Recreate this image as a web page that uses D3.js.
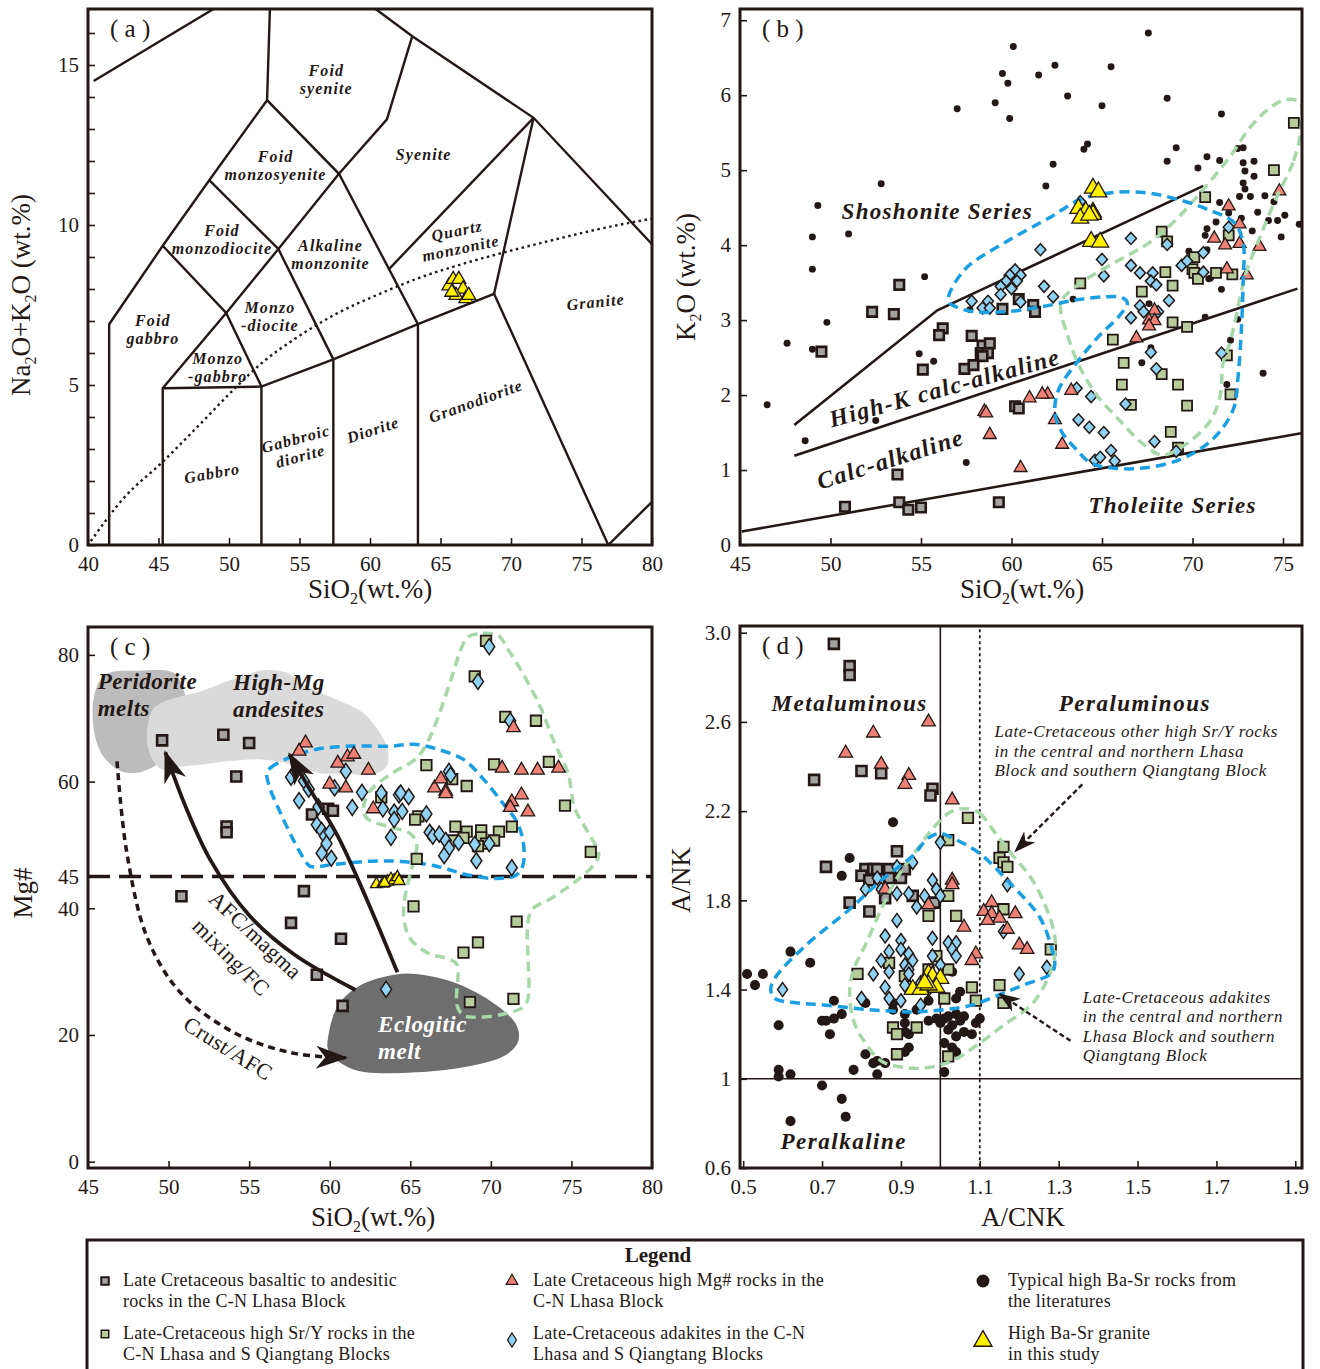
<!DOCTYPE html>
<html>
<head>
<meta charset="utf-8">
<script src="https://cdn.jsdelivr.net/npm/d3@7"></script>
<style>
body { margin: 0; background: #fff; }
svg text { font-family: "Liberation Serif", "Times New Roman", serif; fill: #231815; }
.lab { font-weight: bold; font-style: italic; }
</style>
</head>
<body>
<svg id="fig" width="1320" height="1369"></svg>
<script>
// ---------- (a) TAS plutonic ----------
var aFieldLines = [
  [[40.4,14.5],[48.9,16.75]],
  [[52.9,16.75],[52.7,13.9],[57.8,11.6],[63.4,6.9],[63.4,0]],
  [[52.7,13.9],[48.6,11.4],[45.3,9.35],[41.5,6.9],[41.5,0]],
  [[48.6,11.4],[53.5,9.25],[57.4,5.8],[57.4,0]],
  [[57.8,11.6],[53.5,9.25],[49.8,7.25],[45.3,4.9],[45.3,0]],
  [[45.3,9.35],[49.8,7.25],[52.3,4.95],[52.3,0]],
  [[45.3,4.9],[52.3,4.95],[57.4,5.8],[63.4,6.9],[68.8,7.85],[76.9,0],[80,1.35]],
  [[68.8,7.85],[71.6,13.35]],
  [[61.3,8.6],[71.6,13.35]],
  [[60.4,16.75],[63.0,15.9],[71.6,13.35],[80,9.4]],
  [[63.0,15.9],[61.2,13.3],[57.8,11.6]]
];
var aAlkLine = [[40.2,0.12],[42.5,1.45],[45.3,2.6],[48,3.8],[50.2,4.8],[52.5,5.75],[54.7,6.45],[57.5,7.2],[60.7,7.85],[63.5,8.35],[66.7,8.8],[70,9.2],[72.7,9.5],[76,9.85],[80,10.2]];
var aYellow = [[65.6,8.1],[65.9,8.3],[66.3,8.3],[66.6,8.0],[66.1,7.8],[66.8,7.7],[67.0,7.8],[65.8,7.9]];
var aNames = [
  {t:["Foid","syenite"], x:56.9, y:14.55, r:0},
  {t:["Foid","monzosyenite"], x:53.3, y:11.85, r:0},
  {t:["Syenite"], x:63.8, y:12.2, r:0},
  {t:["Foid","monzodiocite"], x:49.5, y:9.55, r:0},
  {t:["Alkaline","monzonite"], x:57.2, y:9.08, r:0},
  {t:["Quartz","monzonite"], x:66.3, y:9.55, r:-12},
  {t:["Foid","gabbro"], x:44.6, y:6.75, r:0},
  {t:["Monzo","-diocite"], x:52.9, y:7.15, r:0},
  {t:["Monzo","-gabbro"], x:49.2, y:5.55, r:0},
  {t:["Granite"], x:76.0, y:7.6, r:-6},
  {t:["Gabbro"], x:48.8, y:2.25, r:-10},
  {t:["Gabbroic","diorite"], x:54.9, y:3.05, r:-15},
  {t:["Diorite"], x:60.2, y:3.6, r:-18},
  {t:["Granodiorite"], x:67.5, y:4.5, r:-20}
];

// ---------- (b) K2O vs SiO2 ----------
var bShoLine = [[48,1.6],[55.9,3.13],[70.6,4.79]];
var bHkLine = [[48,1.19],[75.8,3.42]];
var bThLine = [[45.1,0.18],[76,1.49]];
var bBlueField = [[56.5,3.26],[57.4,3.67],[59.6,4.03],[62.2,4.38],[63.8,4.61],[65.5,4.70],[67.4,4.70],[69.2,4.61],[70.9,4.47],[72.3,4.30],[72.8,4.03],[72.8,3.54],[72.7,2.87],[72.5,2.20],[72.3,1.84],[71.6,1.54],[70.6,1.31],[69.2,1.13],[67.4,1.03],[65.9,1.02],[64.4,1.09],[63.6,1.27],[62.8,1.50],[62.4,1.76],[62.6,2.07],[63.6,2.43],[64.8,2.78],[65.9,3.04],[66.4,3.23],[66.1,3.30],[65.1,3.31],[63.6,3.27],[61.7,3.18],[59.6,3.11],[58.0,3.11],[56.9,3.18]];
var bGreenField = [[76.0,5.54],[75.55,5.10],[74.67,4.65],[73.73,4.11],[72.96,3.63],[72.40,3.04],[72.07,2.70],[71.69,2.43],[71.52,1.98],[70.91,1.63],[69.42,1.31],[68.31,1.20],[67.21,1.36],[66.10,1.63],[64.78,1.98],[63.84,2.34],[63.12,2.78],[62.73,3.23],[63.51,3.44],[65.72,3.77],[67.60,4.03],[69.09,4.34],[70.58,4.74],[72.07,5.18],[73.18,5.57],[74.17,5.81],[75.11,5.94],[75.94,5.90]];
var bDots = [[67.56,6.83],[60.1,6.65],[59.5,6.29],[59.8,6.16],[62.4,6.40],[65.5,6.38],[61.5,6.27],[63.1,5.99],[59.1,5.90],[57.0,5.82],[59.9,5.69],[65.0,5.86],[68.6,5.96],[71.6,5.75],[64.2,5.35],[64.0,5.28],[69.1,5.30],[62.3,5.08],[61.9,4.79],[68.6,5.12],[70.8,5.18],[70.3,5.03],[71.5,5.13],[52.8,4.82],[49.3,4.53],[49.0,4.11],[51.0,4.15],[49.0,3.68],[55.2,3.58],[49.8,2.97],[47.6,2.69],[49.0,2.61],[46.5,1.87],[48.6,1.39],[54.9,2.55],[55.7,2.45],[52.5,1.66],[57.5,1.10],[63.4,3.28],[57.7,3.14],[67.6,3.22],[67.7,2.63],[67.2,2.43],[72.5,3.01],[72.1,2.73],[73.9,2.29],[71.9,2.14],[70.7,3.04],[71.6,3.41],[71.0,3.56],[69.8,3.92],[72.5,5.29],[72.8,5.30],[72.8,5.10],[73.4,5.12],[72.9,4.99],[73.4,4.92],[72.8,4.83],[72.9,4.75],[72.6,4.65],[73.2,4.65],[74.0,4.66],[74.5,4.58],[72.7,4.36],[73.6,4.44],[74.2,4.33],[74.7,4.33],[75.1,4.40],[75.9,4.28],[74.9,4.11],[73.3,4.19],[71.5,4.57],[70.8,4.22],[70.7,4.13],[70.8,3.94],[71.3,4.31],[72.0,4.43],[70.4,3.63],[70.9,3.55]];
var bGrey = [[53.8,3.47],[52.3,3.11],[53.5,3.08],[49.5,2.58],[56.2,2.89],[56.0,2.80],[57.8,2.79],[58.4,2.66],[58.8,2.69],[58.3,2.56],[58.7,2.56],[58.4,2.52],[57.4,2.35],[57.9,2.40],[55.1,2.34],[59.5,3.15],[60.4,3.28],[61.2,3.20],[61.3,3.11],[60.2,1.85],[60.4,1.82],[53.7,0.94],[53.8,0.57],[54.3,0.47],[55.0,0.50],[50.8,0.51],[59.3,0.57]];
var bRed = [[74.8,4.72],[72.0,4.52],[72.6,4.28],[71.2,4.09],[71.8,4.00],[72.6,4.02],[73.7,3.98],[71.9,3.68],[73.0,3.60],[67.9,3.13],[67.6,3.00],[67.9,2.99],[67.6,2.92],[66.9,2.76],[63.3,2.06],[62.0,2.01],[61.7,2.01],[61.0,1.96],[58.5,1.78],[58.6,1.76],[58.8,1.47],[62.4,1.67],[62.8,1.34],[60.5,1.03]];
var bGreen = [[75.6,5.63],[74.5,5.00],[70.7,4.64],[68.3,4.18],[68.6,4.05],[72.0,4.13],[70.1,3.84],[70.0,3.68],[70.1,3.63],[70.3,3.55],[68.5,3.64],[68.9,3.46],[71.3,3.63],[72.2,3.61],[63.8,3.49],[67.2,3.38],[68.9,2.97],[69.7,2.91],[65.6,2.74],[66.2,2.43],[66.1,2.14],[66.6,1.87],[68.3,2.28],[69.2,2.14],[69.7,1.86],[71.9,2.53],[72.1,2.01],[68.8,1.51],[69.2,1.30]];
var bBlue = [[63.8,4.58],[61.6,3.94],[60.2,3.67],[59.9,3.60],[60.5,3.60],[59.7,3.52],[60.3,3.52],[59.4,3.45],[60.0,3.42],[59.4,3.34],[60.5,3.24],[61.8,3.45],[62.3,3.31],[57.8,3.25],[58.7,3.25],[58.4,3.16],[58.8,3.16],[65.0,3.81],[65.1,3.59],[66.6,4.09],[66.6,3.73],[67.1,3.63],[67.8,3.63],[67.7,3.52],[68.0,3.47],[68.7,3.26],[68.6,4.01],[69.4,3.73],[69.7,3.79],[70.6,3.90],[70.6,3.64],[72.0,4.24],[67.1,3.19],[67.3,3.11],[68.1,3.11],[66.6,3.03],[67.7,2.57],[68.0,2.35],[71.6,2.56],[63.6,2.09],[64.4,1.98],[66.3,1.88],[63.7,1.67],[64.3,1.57],[65.1,1.50],[67.9,1.38],[64.6,1.13],[64.9,1.17],[65.5,1.26],[65.7,1.12],[69.1,1.25]];
var bYellow = [[64.5,4.76],[64.8,4.71],[63.7,4.49],[64.1,4.45],[64.5,4.44],[64.5,4.41],[63.8,4.36],[64.3,4.40],[64.4,4.05],[64.9,4.04]];

// ---------- (c) Mg# vs SiO2 ----------
var cPeridotite = [[45.4,73.8],[46.1,76.9],[48.2,77.5],[50.3,77.2],[50.9,74.7],[51.1,72.2],[50.5,67.6],[49.8,63.8],[48.4,61.6],[47.1,61.6],[46.0,63.8],[45.4,67.6]];
var cHighMg = [[49.0,71.3],[50.0,72.9],[51.8,74.1],[54.2,76.3],[56.0,77.6],[57.3,77.2],[58.4,75.3],[60.2,73.2],[62.0,71.0],[62.9,68.5],[63.6,65.1],[63.5,62.3],[62.5,61.0],[61.0,61.3],[59.4,61.3],[57.8,62.6],[55.8,63.5],[53.7,63.2],[52.1,62.7],[50.5,62.3],[49.5,62.0],[48.7,65.7]];
var cEclogite = [[59.9,19.6],[60.5,24.6],[61.8,27.7],[64.2,29.6],[66.2,29.3],[68.3,27.7],[70.4,24.6],[71.6,21.5],[71.7,19.0],[70.9,16.8],[68.3,14.9],[64.4,14.0],[61.8,14.3],[60.5,15.9],[59.9,17.7]];
var cBlueField = [[56.1,61.2],[56.3,62.1],[57.4,63.7],[59.2,65.1],[61.3,65.6],[63.8,65.6],[65.2,65.9],[66.7,65.1],[68.3,63.5],[69.5,60.5],[70.8,56.4],[71.6,53.7],[72.0,50.6],[72.0,46.9],[71.6,45.3],[70.4,44.7],[68.5,45.3],[66.7,46.6],[64.4,47.4],[62.3,47.4],[60.2,46.9],[58.8,46.6],[58.5,47.4],[57.7,51.0],[56.9,55.3],[56.3,58.9]];
var cGreenField = [[68.7,83.0],[69.5,83.4],[70.5,83.0],[71.0,81.1],[72.0,77.0],[73.1,71.6],[73.9,66.4],[74.8,61.2],[75.2,55.8],[76.0,52.1],[76.7,48.5],[76.4,46.9],[75.4,44.5],[73.7,41.5],[72.6,39.9],[72.3,37.9],[72.3,25.7],[72.0,24.4],[70.8,23.3],[69.2,22.8],[68.3,23.1],[67.9,24.7],[67.9,31.1],[67.4,32.0],[66.2,32.8],[65.0,35.2],[64.6,38.4],[64.7,42.2],[65.2,47.4],[65.4,50.1],[65.0,51.8],[63.6,52.9],[62.3,54.2],[62.1,55.8],[62.5,58.5],[63.8,61.2],[65.4,63.7],[66.1,66.4],[66.7,70.0],[67.5,75.9],[68.3,81.8]];
var cArrowAFC = [[61.6,27.1],[57.8,32.7],[55.0,38.9],[52.6,47.6],[51.0,56.4],[49.8,64.6]];
var cArrowMix = [[64.2,29.9],[62.3,41.4],[60.5,51.4],[58.6,59.5],[57.5,64.3]];
var cArrowCrust = [[46.8,63.2],[47.4,48.9],[48.7,35.2],[50.8,26.5],[54.2,20.2],[57.8,17.1],[61.0,16.4]];
var cGrey = [[49.6,66.5],[53.4,67.4],[55.0,66.1],[54.2,60.8],[53.6,52.9],[53.6,52.0],[50.8,41.9],[58.4,42.7],[57.6,37.7],[60.7,35.2],[59.2,29.5],[60.8,24.6],[58.9,54.8],[59.9,55.7],[60.2,55.4]];
var cRed = [[58.5,66.1],[58.1,64.8],[60.5,62.9],[61.1,63.9],[61.5,64.3],[62.4,61.8],[60.0,59.6],[61.0,59.0],[62.7,55.7],[66.5,59.0],[66.9,60.4],[67.2,58.5],[67.2,58.1],[70.7,62.1],[71.9,61.8],[72.9,61.8],[74.2,62.1],[71.4,68.5],[71.9,57.9],[71.3,56.8],[71.2,55.9],[72.3,55.2]];
var cGreen = [[69.7,82.2],[69.0,76.6],[70.9,70.2],[72.8,69.6],[73.6,63.1],[70.2,62.7],[66.0,62.6],[67.6,60.4],[68.5,59.3],[63.2,57.5],[65.5,54.5],[65.3,54.0],[74.6,56.2],[71.3,52.9],[67.8,52.9],[68.5,52.1],[69.4,52.3],[70.5,52.1],[67.6,50.7],[68.3,51.1],[69.4,51.2],[69.7,50.2],[69.2,49.8],[70.2,50.7],[65.4,47.8],[76.2,48.9],[65.2,40.3],[71.6,37.9],[68.3,33.0],[69.2,34.6],[68.7,25.2],[71.4,25.7]];
var cBlue = [[69.9,81.3],[69.2,75.8],[71.2,69.6],[57.6,60.7],[57.9,61.5],[58.4,60.1],[58.7,58.8],[58.1,57.0],[59.3,56.0],[60.3,59.0],[61.0,61.6],[62.0,58.3],[61.4,55.9],[63.2,58.2],[63.3,55.7],[64.3,57.9],[64.9,57.6],[64.4,58.2],[64.0,55.2],[64.0,54.0],[64.5,55.3],[63.8,51.2],[59.2,53.2],[59.5,52.3],[59.7,51.4],[60.0,52.0],[59.8,50.2],[59.5,48.7],[60.1,47.9],[66.0,54.9],[66.2,52.0],[66.4,51.4],[66.8,51.7],[67.2,50.7],[67.4,49.5],[67.1,48.3],[68.0,50.4],[67.4,61.6],[67.5,61.0],[69.0,50.1],[69.9,50.2],[69.1,47.5],[71.3,46.4],[63.5,27.2]];
var cYellow = [[62.9,43.8],[63.3,43.9],[63.6,44.2],[63.8,44.6],[64.0,44.4],[64.2,44.9],[63.4,44.0],[64.3,44.3]];

// ---------- (d) A/NK vs A/CNK ----------
var dBlueField = [[0.57,1.40],[0.58,1.45],[0.66,1.60],[0.77,1.76],[0.85,1.89],[0.93,2.00],[0.97,2.08],[1.00,2.10],[1.03,2.08],[1.10,2.01],[1.18,1.87],[1.25,1.73],[1.28,1.60],[1.29,1.51],[1.28,1.47],[1.21,1.42],[1.14,1.37],[1.08,1.33],[1.01,1.31],[0.93,1.30],[0.82,1.31],[0.71,1.33],[0.64,1.34],[0.58,1.36]];
var dGreenField = [[1.07,2.21],[1.10,2.19],[1.14,2.10],[1.18,2.01],[1.23,1.90],[1.27,1.76],[1.29,1.64],[1.29,1.55],[1.27,1.44],[1.23,1.33],[1.16,1.24],[1.10,1.16],[1.03,1.08],[0.97,1.05],[0.91,1.05],[0.85,1.08],[0.81,1.16],[0.78,1.26],[0.77,1.39],[0.78,1.49],[0.81,1.60],[0.85,1.76],[0.89,1.90],[0.95,2.05],[0.99,2.14],[1.03,2.20]];
var dArrowSrY = [[1.36,2.32],[1.19,2.02]];
var dArrowAdak = [[1.33,1.17],[1.15,1.38]];
var dGrey = [[0.73,2.95],[0.77,2.85],[0.77,2.81],[0.68,2.34],[0.80,2.38],[0.85,2.37],[0.98,2.30],[0.975,2.27],[0.89,2.02],[0.71,1.95],[0.81,1.94],[0.83,1.94],[0.84,1.94],[0.80,1.91],[0.82,1.89],[0.87,1.94],[0.90,1.93],[0.87,1.90],[0.90,1.90],[0.91,1.94],[0.77,1.79],[0.82,1.75],[0.86,1.81],[0.985,1.79],[0.93,1.82]];
var dRed = [[0.97,2.60],[0.83,2.55],[0.76,2.46],[0.85,2.41],[0.92,2.36],[0.91,2.32],[1.03,2.25],[1.03,1.89],[1.03,1.87],[0.86,1.85],[0.97,1.78],[1.06,1.68],[1.09,1.56],[1.08,1.53],[1.13,1.79],[1.11,1.75],[1.13,1.74],[1.15,1.72],[1.12,1.71],[1.19,1.74],[1.17,1.67],[1.20,1.60],[1.22,1.58]];
var dGreen = [[1.07,2.17],[1.02,2.07],[1.16,2.04],[1.15,1.99],[1.16,1.97],[1.17,1.95],[1.02,1.82],[1.04,1.73],[0.97,1.73],[1.16,1.76],[1.28,1.58],[0.79,1.47],[0.87,1.52],[1.15,1.42],[1.08,1.41],[1.09,1.35],[1.01,1.36],[0.88,1.23],[0.89,1.20],[0.94,1.23],[0.89,1.11],[1.02,1.10],[1.16,1.34],[0.91,1.46],[0.97,1.49],[0.99,1.55],[1.02,1.49]];
var dBlue = [[1.00,2.06],[0.89,1.95],[0.93,1.97],[0.81,1.85],[0.84,1.90],[0.85,1.85],[0.89,1.83],[0.92,1.83],[0.94,1.77],[0.96,1.82],[0.98,1.89],[0.99,1.85],[1.00,1.82],[1.17,1.87],[1.16,1.66],[0.89,1.71],[0.86,1.64],[0.90,1.62],[0.98,1.63],[1.02,1.61],[1.04,1.61],[1.03,1.58],[1.04,1.55],[0.85,1.53],[0.87,1.57],[0.90,1.58],[0.92,1.56],[0.93,1.53],[0.91,1.51],[0.92,1.49],[0.87,1.48],[0.83,1.47],[0.92,1.47],[0.98,1.55],[1.00,1.51],[0.86,1.41],[0.87,1.36],[0.90,1.35],[0.80,1.36],[0.95,1.33],[0.60,1.40],[1.20,1.47],[1.27,1.50],[0.97,1.40],[0.95,1.43],[0.91,1.42]];
var dDots = [[0.88,2.15],[0.77,1.99],[0.75,1.91],[0.67,1.52],[0.62,1.57],[0.51,1.47],[0.55,1.47],[0.53,1.42],[0.73,1.35],[0.59,1.24],[0.70,1.26],[0.71,1.26],[0.73,1.27],[0.72,1.20],[0.75,1.29],[0.81,1.34],[0.81,1.11],[0.83,1.07],[0.84,1.08],[0.86,1.07],[0.84,1.02],[0.78,1.04],[0.88,1.31],[0.91,1.29],[0.91,1.25],[0.91,1.21],[0.92,1.14],[0.91,1.12],[0.97,1.26],[0.99,1.27],[1.00,1.25],[1.01,1.27],[1.02,1.28],[1.03,1.24],[1.05,1.26],[1.02,1.22],[1.04,1.19],[1.01,1.16],[1.03,1.14],[1.04,1.12],[1.06,1.21],[1.08,1.20],[1.09,1.25],[1.10,1.27],[1.06,1.28],[1.04,1.29],[1.04,1.36],[1.05,1.39],[1.03,1.48],[1.01,1.03],[0.59,1.04],[0.59,1.01],[0.62,1.02],[0.70,0.97],[0.75,0.91],[0.76,0.83],[0.62,0.81],[0.92,1.20],[0.94,1.31],[0.97,1.35],[0.88,1.34]];
var dYellow = [[0.93,1.40],[0.95,1.40],[0.97,1.47],[0.98,1.46],[1.00,1.45],[0.99,1.41],[0.97,1.42],[0.96,1.43]];

// ---------- legend ----------
var legendItems = [
  {kind:"grey", lines:["Late Cretaceous basaltic to andesitic","rocks in the C-N Lhasa Block"]},
  {kind:"red", lines:["Late Cretaceous high Mg# rocks in the","C-N Lhasa Block"]},
  {kind:"dot", lines:["Typical high Ba-Sr rocks from","the literatures"]},
  {kind:"green", lines:["Late-Cretaceous high Sr/Y rocks in the","C-N Lhasa and S Qiangtang Blocks"]},
  {kind:"blue", lines:["Late-Cretaceous adakites in the C-N","Lhasa  and S Qiangtang Blocks"]},
  {kind:"yellow", lines:["High Ba-Sr granite","in this study"]}
];

var INK = "#231815";
var COL = {grey:"#a3a3a3", green:"#b7cb9b", red:"#ef8075", blue:"#8fd2f3", yellow:"#fff100",
           blueLine:"#1a9fe3", greenLine:"#a8d7aa"};

var svg = d3.select("#fig");
var defs = svg.append("defs");
defs.append("marker").attr("id", "headBig").attr("viewBox", "0 0 14 10")
  .attr("refX", 13).attr("refY", 5).attr("markerUnits", "userSpaceOnUse")
  .attr("markerWidth", 32).attr("markerHeight", 23).attr("orient", "auto")
  .append("path").attr("d", "M0,0 L14,5 L0,10 L4,5 Z").attr("fill", INK);
defs.append("marker").attr("id", "headSmall").attr("viewBox", "0 0 14 10")
  .attr("refX", 13).attr("refY", 5).attr("markerUnits", "userSpaceOnUse")
  .attr("markerWidth", 22).attr("markerHeight", 16).attr("orient", "auto")
  .append("path").attr("d", "M0,0 L14,5 L0,10 L4,5 Z").attr("fill", INK);

function makePanel(o) {
  var x = d3.scaleLinear().domain(o.xd).range([o.l, o.r]);
  var y = d3.scaleLinear().domain(o.yd).range([o.b, o.t]);
  defs.append("clipPath").attr("id", "clip" + o.id)
    .append("rect").attr("x", o.l).attr("y", o.t).attr("width", o.r - o.l).attr("height", o.b - o.t);
  var g = svg.append("g");
  var inner = g.append("g").attr("clip-path", "url(#clip" + o.id + ")");

  var xa = d3.axisBottom(x).tickValues(o.xt).tickSize(-7).tickPadding(11).tickFormat(o.xf);
  var ya = d3.axisLeft(y).tickValues(o.yt).tickSize(-7).tickPadding(9).tickFormat(o.yf);
  [g.append("g").attr("transform", "translate(0," + o.b + ")").call(xa),
   g.append("g").attr("transform", "translate(" + o.l + ",0)").call(ya)].forEach(function (ax) {
    ax.select(".domain").remove();
    ax.selectAll(".tick line").attr("stroke", INK).attr("stroke-width", 1.6);
    ax.selectAll(".tick text").attr("font-size", 21).attr("fill", INK)
      .attr("font-family", "Liberation Serif, serif");
  });
  g.append("rect").attr("x", o.l).attr("y", o.t)
    .attr("width", o.r - o.l).attr("height", o.b - o.t)
    .attr("fill", "none").attr("stroke", INK).attr("stroke-width", 3);
  g.append("text").attr("x", o.l + 22).attr("y", o.t + 28).attr("font-size", 25).text("( " + o.id + " )");
  return {g: g, inner: inner, x: x, y: y, o: o};
}

function path(P, data, closed, curve) {
  return d3.line().x(function (d) { return P.x(d[0]); }).y(function (d) { return P.y(d[1]); })
    .curve(curve || (closed ? d3.curveCatmullRomClosed : d3.curveLinear))(data);
}

function diamondPath(w, h) {
  return "M0," + (-h / 2) + "L" + (w / 2) + ",0L0," + (h / 2) + "L" + (-w / 2) + ",0Z";
}

function markers(P, data, kind, s) {
  var layer = P.inner.append("g");
  var sel = layer.selectAll(null).data(data).enter().append("path")
    .attr("transform", function (d) { return "translate(" + P.x(d[0]) + "," + P.y(d[1]) + ")"; })
    .attr("stroke", INK);
  if (kind === "grey") sel.attr("d", d3.symbol(d3.symbolSquare, s || 100)()).attr("fill", COL.grey).attr("stroke-width", 2.6);
  if (kind === "green") sel.attr("d", d3.symbol(d3.symbolSquare, s || 110)()).attr("fill", COL.green).attr("stroke-width", 1.8);
  if (kind === "red") sel.attr("d", d3.symbol(d3.symbolTriangle, s || 72)()).attr("fill", COL.red).attr("stroke-width", 1.3);
  if (kind === "yellow") sel.attr("d", d3.symbol(d3.symbolTriangle, s || 110)()).attr("fill", COL.yellow).attr("stroke-width", 1.3);
  if (kind === "blue") sel.attr("d", diamondPath(s ? s[0] : 11, s ? s[1] : 14)).attr("fill", COL.blue).attr("stroke-width", 1.5);
  if (kind === "dot") sel.attr("d", d3.symbol(d3.symbolCircle, s || 40)()).attr("fill", INK).attr("stroke", "none");
}

function title(x, y, parts, rot) {
  var t = svg.append("text").attr("font-size", 27).attr("text-anchor", "middle")
    .attr("transform", "translate(" + x + "," + y + ")" + (rot ? " rotate(" + rot + ")" : ""));
  parts.forEach(function (p) {
    if (p[1]) t.append("tspan").attr("font-size", 16).attr("dy", 6).text(p[0]);
    else t.append("tspan").text(p[0]);
  });
  // lift text back up after each subscript
  t.selectAll("tspan").each(function (d, i, n) {
    var s = d3.select(this);
    if (+s.attr("font-size") !== 16 && i > 0 && +d3.select(n[i - 1]).attr("font-size") === 16) s.attr("dy", -6);
  });
}

function label(P, x, y, lines, opt) {
  opt = opt || {};
  var fs = opt.fs || 16;
  var t = P.g.append("text").attr("class", opt.plain ? null : "lab")
    .attr("font-size", fs).attr("text-anchor", opt.anchor || "middle")
    .attr("letter-spacing", opt.ls == null ? 1.2 : opt.ls)
    .attr("transform", "translate(" + P.x(x) + "," + P.y(y) + ") rotate(" + (opt.r || 0) + ")");
  if (opt.italic) t.attr("font-style", "italic");
  if (opt.fill) t.attr("fill", opt.fill).style("fill", opt.fill);
  lines.forEach(function (s, i) {
    t.append("tspan").attr("x", 0).attr("y", (i - (lines.length - 1) / 2) * (opt.lh || fs * 1.15) + fs * 0.35).text(s);
  });
}

var intFmt = d3.format("d");

// ================= panel (a) =================
var A = makePanel({id: "a", l: 88, r: 652, t: 9, b: 545, xd: [40, 80], yd: [0, 16.75],
  xt: d3.range(40, 81, 5), yt: d3.range(0, 17, 1), xf: intFmt,
  yf: function (d) { return d % 5 === 0 ? d : ""; }});
aFieldLines.forEach(function (l) {
  A.inner.append("path").attr("d", path(A, l)).attr("fill", "none").attr("stroke", INK).attr("stroke-width", 2.4);
});
A.inner.append("path").attr("d", path(A, aAlkLine, false, d3.curveMonotoneX)).attr("fill", "none")
  .attr("stroke", INK).attr("stroke-width", 2.4).attr("stroke-dasharray", "2.5,3.5");
aNames.forEach(function (n) { label(A, n.x, n.y, n.t, {r: n.r, fs: 16, ls: 1.1, lh: 18}); });
markers(A, aYellow, "yellow", 85);
title(370, 598, [["SiO"], ["2", 1], ["(wt.%)"]]);
title(30, 295, [["Na"], ["2", 1], ["O+K"], ["2", 1], ["O (wt.%)"]], -90);

// ================= panel (b) =================
var B = makePanel({id: "b", l: 740, r: 1302, t: 9, b: 545, xd: [45, 76.05], yd: [0, 7.15],
  xt: d3.range(45, 76, 5), yt: d3.range(0, 8, 1), xf: intFmt, yf: intFmt});
[bShoLine, bHkLine, bThLine].forEach(function (l) {
  B.inner.append("path").attr("d", path(B, l)).attr("fill", "none").attr("stroke", INK).attr("stroke-width", 2.6);
});
markers(B, bDots, "dot", 38);
markers(B, bGrey, "grey", 90);
markers(B, bGreen, "green", 100);
markers(B, bBlue, "blue", [11, 12]);
markers(B, bRed, "red", 72);
B.inner.append("path").attr("d", path(B, bGreenField, true)).attr("fill", "none")
  .attr("stroke", COL.greenLine).attr("stroke-width", 3.5).attr("stroke-dasharray", "10,6");
B.inner.append("path").attr("d", path(B, bBlueField, true)).attr("fill", "none")
  .attr("stroke", COL.blueLine).attr("stroke-width", 3.5).attr("stroke-dasharray", "10,6");
markers(B, bYellow, "yellow", 125);
label(B, 55.9, 4.45, ["Shoshonite Series"], {fs: 23, ls: 1.3});
label(B, 56.3, 2.1, ["High-K calc-alkaline"], {fs: 24, ls: 1.5, r: -15.5});
label(B, 53.3, 1.15, ["Calc-alkaline"], {fs: 24, ls: 1.5, r: -17.5});
label(B, 68.9, 0.53, ["Tholeiite Series"], {fs: 23, ls: 1.3});
title(1022, 598, [["SiO"], ["2", 1], ["(wt.%)"]]);
title(695, 277, [["K"], ["2", 1], ["O (wt.%)"]], -90);

// ================= panel (c) =================
var Cp = makePanel({id: "c", l: 88, r: 652, t: 627, b: 1168, xd: [45, 80], yd: [-1, 84.4],
  xt: d3.range(45, 81, 5), yt: [0, 20, 40, 45, 60, 80], xf: intFmt, yf: intFmt});
Cp.inner.append("path").attr("d", path(Cp, cPeridotite, true)).attr("fill", "#bcbcbc");
Cp.inner.append("path").attr("d", path(Cp, cHighMg, true)).attr("fill", "#dadada");
Cp.inner.append("path").attr("d", path(Cp, cEclogite, true)).attr("fill", "#6e6e6e");
Cp.inner.append("path").attr("d", path(Cp, [[45, 45], [80, 45]])).attr("stroke", INK)
  .attr("stroke-width", 3.5).attr("stroke-dasharray", "22,9");
Cp.inner.append("path").attr("d", path(Cp, cGreenField, true)).attr("fill", "none")
  .attr("stroke", COL.greenLine).attr("stroke-width", 3.5).attr("stroke-dasharray", "10,6");
Cp.inner.append("path").attr("d", path(Cp, cBlueField, true)).attr("fill", "none")
  .attr("stroke", COL.blueLine).attr("stroke-width", 3.5).attr("stroke-dasharray", "10,6");
markers(Cp, cGrey, "grey", 100);
markers(Cp, cGreen, "green", 110);
markers(Cp, cBlue, "blue", [11, 16]);
markers(Cp, cRed, "red", 80);
markers(Cp, cYellow, "yellow", 62);
Cp.inner.append("path").attr("d", path(Cp, cArrowAFC, false, d3.curveCatmullRom)).attr("fill", "none")
  .attr("stroke", INK).attr("stroke-width", 3.8).attr("marker-end", "url(#headBig)");
Cp.inner.append("path").attr("d", path(Cp, cArrowMix, false, d3.curveCatmullRom)).attr("fill", "none")
  .attr("stroke", INK).attr("stroke-width", 3.8).attr("marker-end", "url(#headBig)");
Cp.inner.append("path").attr("d", path(Cp, cArrowCrust, false, d3.curveCatmullRom)).attr("fill", "none")
  .attr("stroke", INK).attr("stroke-width", 3.5).attr("stroke-dasharray", "7,5").attr("marker-end", "url(#headBig)");
label(Cp, 45.6, 73.8, ["Peridorite", "melts"], {fs: 23, ls: 0.5, anchor: "start", lh: 27});
label(Cp, 54.0, 73.6, ["High-Mg", "andesites"], {fs: 23, ls: 0.5, anchor: "start", lh: 27});
label(Cp, 63.0, 19.6, ["Eclogitic", "melt"], {fs: 23, ls: 0.5, lh: 27, anchor: "start", fill: "#ffffff"});
label(Cp, 55.4, 35.8, ["AFC/magma"], {fs: 22, ls: 0.4, r: 43, plain: true});
label(Cp, 53.9, 32.3, ["mixing/FC"], {fs: 22, ls: 0.4, r: 45, plain: true});
label(Cp, 53.7, 17.9, ["Crust/AFC"], {fs: 22, ls: 0.4, r: 32, plain: true});
title(373, 1226, [["SiO"], ["2", 1], ["(wt.%)"]]);
title(32, 893, [["Mg#"]], -90);

// ================= panel (d) =================
var D = makePanel({id: "d", l: 740, r: 1302, t: 626, b: 1168, xd: [0.492, 1.917], yd: [0.6, 3.03],
  xt: [0.5, 0.7, 0.9, 1.1, 1.3, 1.5, 1.7, 1.9], yt: [0.6, 1.0, 1.4, 1.8, 2.2, 2.6, 3.0],
  xf: d3.format(".1f"), yf: function (d) { return d === 1 ? "1" : d3.format(".1f")(d); }});
D.inner.append("path").attr("d", path(D, [[1.0, 0.5], [1.0, 3.1]])).attr("stroke", INK).attr("stroke-width", 1.6);
D.inner.append("path").attr("d", path(D, [[0.4, 1.0], [2.0, 1.0]])).attr("stroke", INK).attr("stroke-width", 1.6);
D.inner.append("path").attr("d", path(D, [[1.1, 0.5], [1.1, 3.1]])).attr("stroke", INK).attr("stroke-width", 1.8)
  .attr("stroke-dasharray", "3,3");
markers(D, dDots, "dot", 80);
markers(D, dGrey, "grey", 100);
markers(D, dGreen, "green", 110);
markers(D, dBlue, "blue", [10, 14]);
markers(D, dRed, "red", 80);
D.inner.append("path").attr("d", path(D, dGreenField, true)).attr("fill", "none")
  .attr("stroke", COL.greenLine).attr("stroke-width", 3.5).attr("stroke-dasharray", "10,6");
D.inner.append("path").attr("d", path(D, dBlueField, true)).attr("fill", "none")
  .attr("stroke", COL.blueLine).attr("stroke-width", 3.5).attr("stroke-dasharray", "10,6");
markers(D, dYellow, "yellow", 125);
[dArrowSrY, dArrowAdak].forEach(function (l) {
  D.inner.append("path").attr("d", path(D, l)).attr("fill", "none").attr("stroke", INK)
    .attr("stroke-width", 2.4).attr("stroke-dasharray", "5,3").attr("marker-end", "url(#headSmall)");
});
label(D, 0.77, 2.685, ["Metaluminous"], {fs: 23, ls: 1.5});
label(D, 1.493, 2.685, ["Peraluminous"], {fs: 23, ls: 1.5});
label(D, 0.755, 0.72, ["Peralkaline"], {fs: 23, ls: 1.5});
label(D, 1.137, 2.47, ["Late-Cretaceous other high Sr/Y rocks", "in the central and northern Lhasa", "Block and southern Qiangtang Block"],
  {fs: 17, ls: 0.6, anchor: "start", italic: true, plain: true, lh: 19.5});
label(D, 1.361, 1.237, ["Late-Cretaceous adakites", "in the central and northern", "Lhasa Block and southern", "Qiangtang Block"],
  {fs: 17, ls: 0.6, anchor: "start", italic: true, plain: true, lh: 19.5});
title(1023, 1226, [["A/CNK"]]);
title(690, 880, [["A/NK"]], -90);

// ================= legend =================
var leg = svg.append("g");
leg.append("rect").attr("x", 87).attr("y", 1240).attr("width", 1216).attr("height", 150)
  .attr("fill", "none").attr("stroke", INK).attr("stroke-width", 3);
leg.append("text").attr("x", 658).attr("y", 1262).attr("text-anchor", "middle")
  .attr("font-size", 21).attr("font-weight", "bold").text("Legend");
var legX = d3.scaleOrdinal().domain([0, 1, 2]).range([105, 512, 983]);
var legY = d3.scaleOrdinal().domain([0, 1]).range([1280, 1333]);
legendItems.forEach(function (it, i) {
  var col = i % 3, row = Math.floor(i / 3);
  var mx = legX(col), my = legY(row);
  var m = leg.append("path").attr("transform", "translate(" + mx + "," + (my + 1) + ")").attr("stroke", INK);
  if (it.kind === "grey") m.attr("d", d3.symbol(d3.symbolSquare, 56)()).attr("fill", COL.grey).attr("stroke-width", 2);
  if (it.kind === "green") m.attr("d", d3.symbol(d3.symbolSquare, 56)()).attr("fill", COL.green).attr("stroke-width", 1.5);
  if (it.kind === "red") m.attr("d", d3.symbol(d3.symbolTriangle, 60)()).attr("fill", COL.red).attr("stroke-width", 1.2);
  if (it.kind === "blue") m.attr("d", diamondPath(9, 14)).attr("fill", COL.blue).attr("stroke-width", 1.3)
    .attr("transform", "translate(" + mx + "," + (my + 7) + ")");
  if (it.kind === "dot") m.attr("d", d3.symbol(d3.symbolCircle, 130)()).attr("fill", INK).attr("stroke", "none");
  if (it.kind === "yellow") m.attr("d", d3.symbol(d3.symbolTriangle, 140)()).attr("fill", COL.yellow).attr("stroke-width", 1.4)
    .attr("transform", "translate(" + mx + "," + (my + 8) + ")");
  it.lines.forEach(function (s, k) {
    leg.append("text").attr("x", mx + (col === 0 ? 18 : col === 1 ? 21 : 25)).attr("y", my + 6 + k * 21)
      .attr("font-size", 18).attr("letter-spacing", 0.3).text(s);
  });
});
</script>
</body>
</html>
